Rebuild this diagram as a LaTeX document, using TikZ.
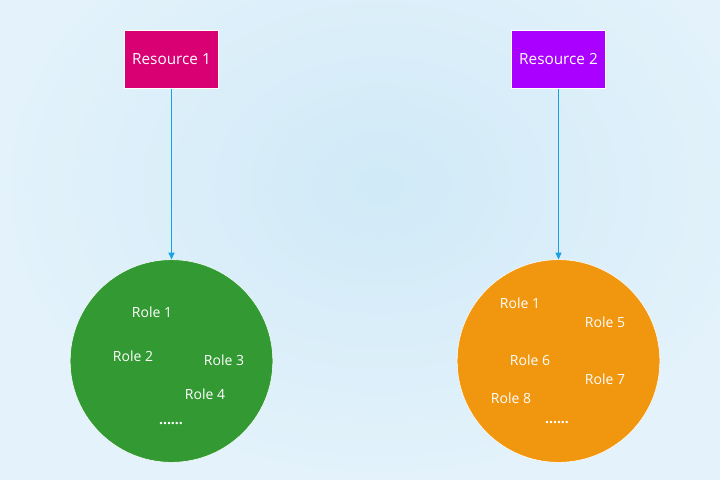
\documentclass[tikz,border=0pt]{standalone}
\usepackage{fontspec}
\setmainfont{Open Sans}
\usetikzlibrary{positioning,arrows.meta,calc}
\definecolor{cBack}{HTML}{E3F2FB}
\definecolor{cBackMid}{HTML}{D0EAF7}
\definecolor{cResA}{HTML}{D80073}
\definecolor{cResB}{HTML}{AA00FF}
\definecolor{cPoolA}{HTML}{339933}
\definecolor{cPoolB}{HTML}{F0960F}
\definecolor{cLink}{HTML}{1BA1E2}
\tikzset{
  resbox/.style={draw=white,line width=0.6pt,minimum width=70pt,minimum height=43pt,
                 inner sep=0pt,text=white,font=\fontsize{11.5}{13}\selectfont},
  pool/.style={circle,draw=white,line width=0.4pt,minimum size=152pt,inner sep=0pt},
  role/.style={text=white,font=\fontsize{10.5}{12}\selectfont,inner sep=0pt},
  link/.style={draw=cLink,line width=0.7pt,-{Triangle[length=5pt,width=4.5pt]}}
}
\begin{document}
\begin{tikzpicture}[x=0.75pt,y=-0.75pt]
        \useasboundingbox (0,0) rectangle (720,479);
        \clip (0,0) rectangle (720,479);
        \shade[inner color=cBackMid,outer color=cBack] (0,-109) rectangle (760,479);
        % resources
        \node[resbox,fill=cResA] (res1) at (171.5,59.5) {Resource 1};
        \node[resbox,fill=cResB] (res2) at (558.5,59.5) {Resource 2};
        % role pools
        \node[pool,fill=cPoolA] (poolA) at (171.5,361) {};
        \node[pool,fill=cPoolB] (poolB) at (558.5,361) {};
        \draw[link] (res1) -- (poolA);
        \draw[link] (res2) -- (poolB);
        % roles of resource 1
        \node[role] (a1) at (152,312) {Role 1};
        \node[role] (a2) at (133,356) {Role 2};
        \node[role] (a3) at (224,360) {Role 3};
        \node[role] (a4) at (205,394) {Role 4};
        \node[role,font=\bfseries\fontsize{10.5}{12}\selectfont] (aDots) at (171,424) {......};
        % roles of resource 2
        \node[role] (b1) at (520,303) {Role 1};
        \node[role] (b5) at (605,322) {Role 5};
        \node[role] (b6) at (530,360) {Role 6};
        \node[role] (b7) at (605,379) {Role 7};
        \node[role] (b8) at (511,398) {Role 8};
        \node[role,font=\bfseries\fontsize{10.5}{12}\selectfont] (bDots) at (557,423) {......};
      \end{tikzpicture}
\end{document}
